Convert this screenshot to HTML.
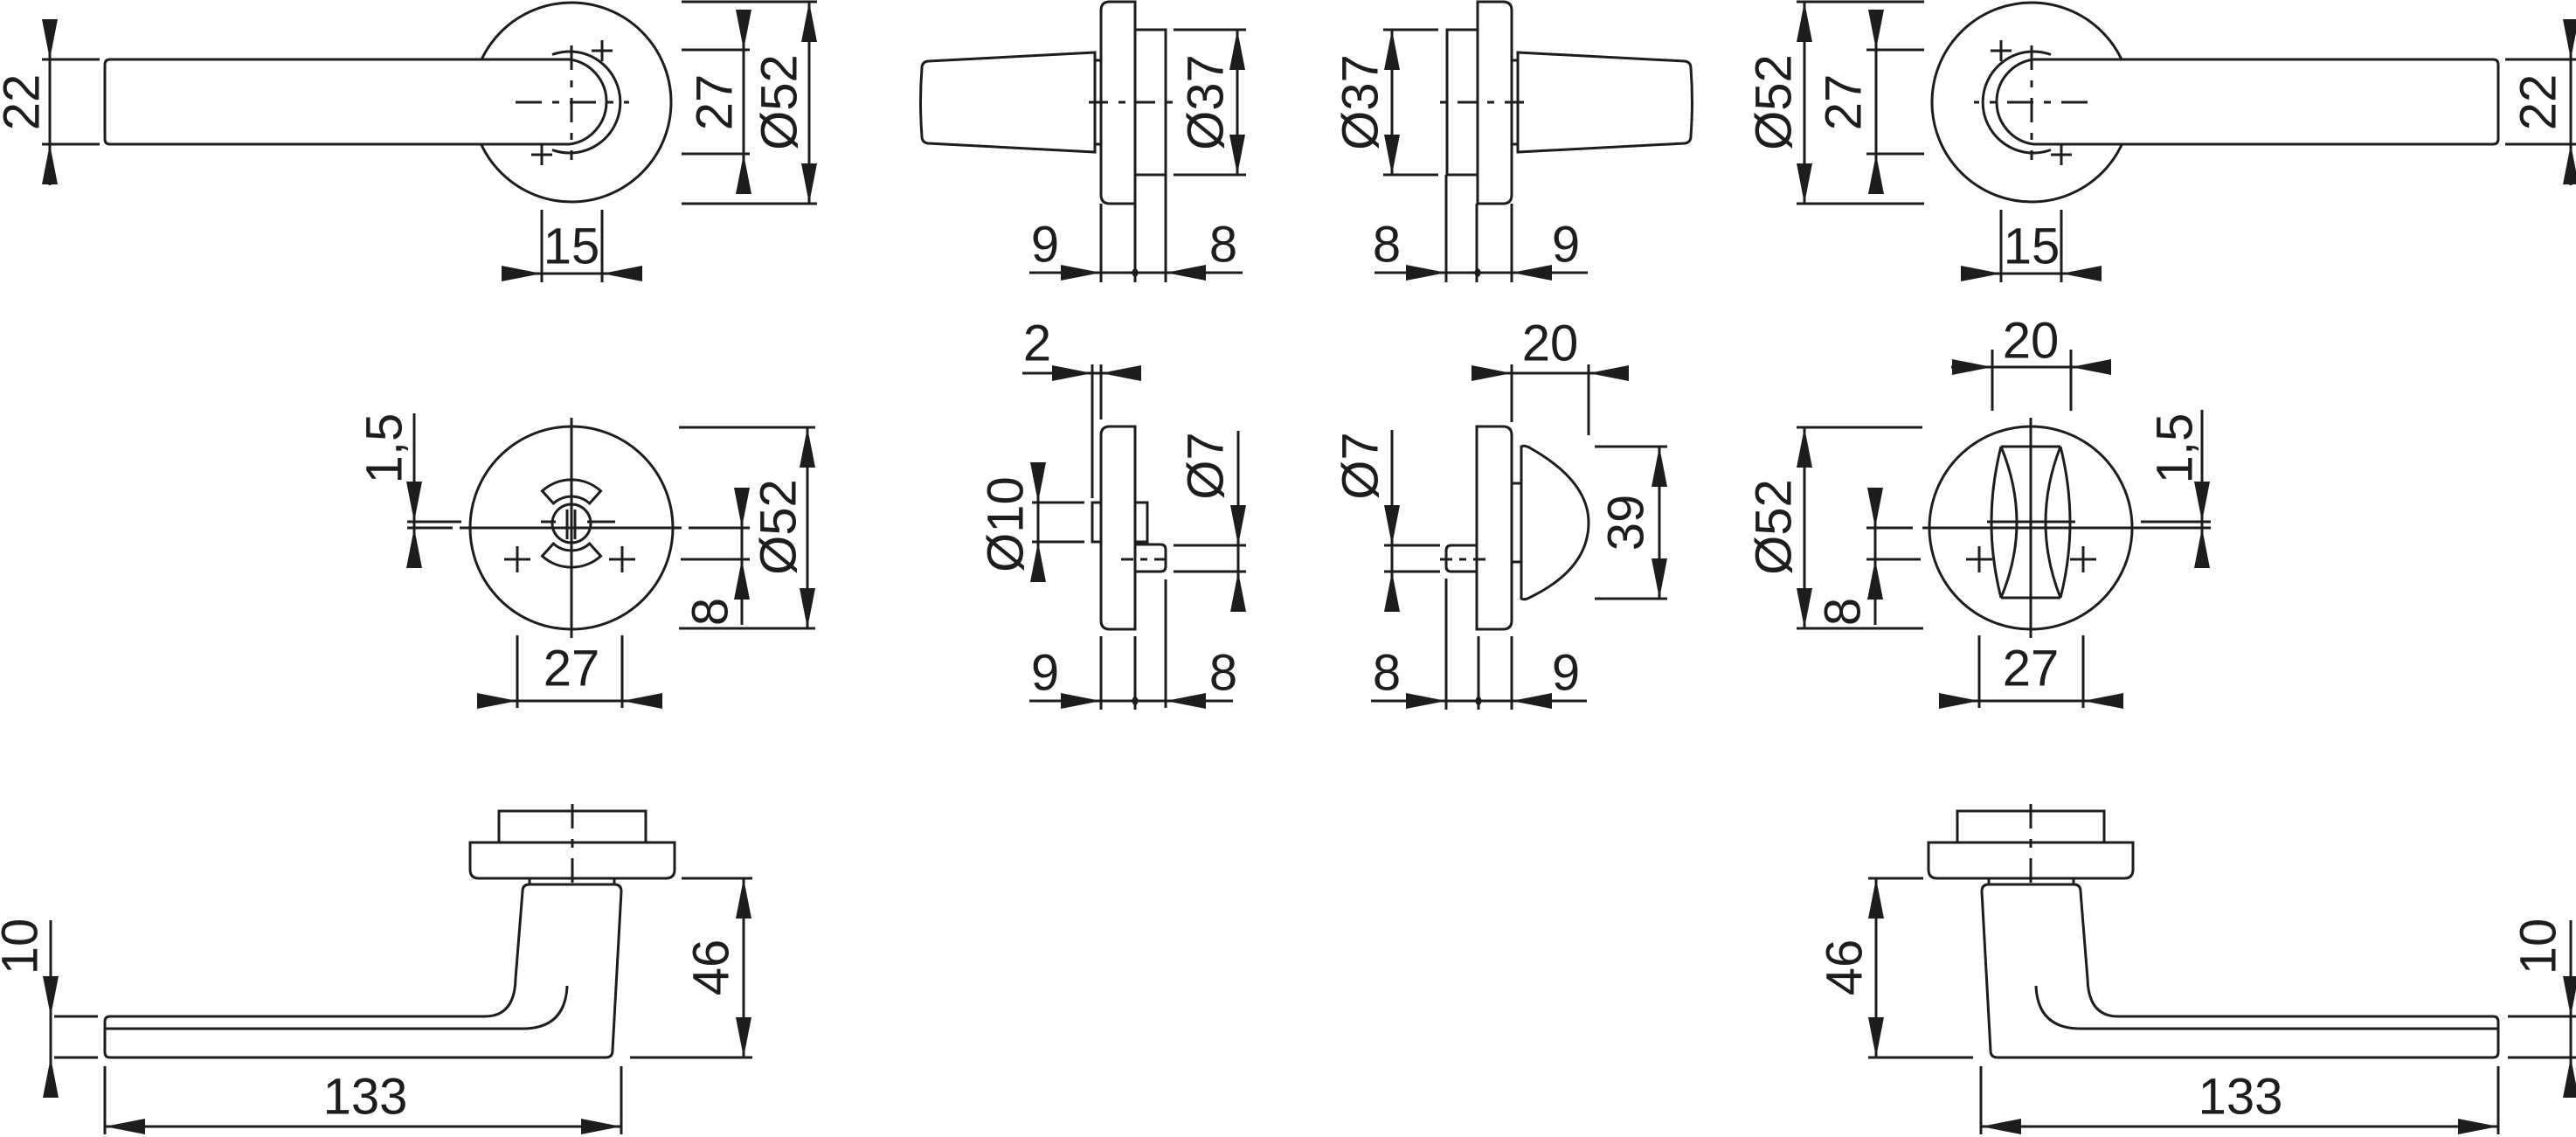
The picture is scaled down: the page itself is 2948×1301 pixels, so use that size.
<!DOCTYPE html>
<html><head><meta charset="utf-8"><style>
html,body{margin:0;padding:0;background:#fff}
svg{display:block}
text{font-family:"Liberation Sans",sans-serif;font-size:58px;fill:#1d1d1b;text-anchor:middle;dominant-baseline:central}
</style></head><body>
<svg xmlns="http://www.w3.org/2000/svg" xmlns:xlink="http://www.w3.org/1999/xlink" width="2948" height="1301" viewBox="0 0 2948 1301">
<defs>
<path id="a" d="M0,0 L-46,-9 L-46,9Z" fill="#1d1d1b"/>
<g id="roseTop">
<circle cx="654" cy="117" r="114" fill="#fff"/>
<path d="M652,68 H126 Q120,68 120,74 V159 Q120,165 126,165 H652" fill="#fff"/>
<path d="M652,68 A49,49 0 0 1 652,165"/>
<path d="M632,62.5 A58,58 0 1 1 632,171.5"/>
<path d="M677,58 H701 M689,46 V70 M608,177 H632 M620,165 V189"/>
<path d="M590,117 H720" stroke-dasharray="30,12,8,12"/>
<path d="M654,52 V183" stroke-dasharray="28,12,8,12"/>
</g>
<g id="knob">
<path d="M1299,2 H1270 Q1260,2 1260,12 V223 Q1260,233 1270,233 H1299 Z"/>
<path d="M1299,34 H1334 V200 H1299"/>
<path d="M1253,60 L1062,70 Q1055,71 1055,78 Q1052,117 1055,156 Q1055,163 1062,164 L1253,174 Z"/>
<path d="M1253,69 H1260 M1253,165 H1260 M1253,69 V165"/>
<path d="M1246,117 H1343" stroke-dasharray="22,12,8,12"/>
</g>
<g id="leverBot">
<rect x="571" y="928" width="168" height="36"/>
<path d="M538,964 H772 V995 Q772,1005 762,1005 H548 Q538,1005 538,995 Z"/>
<path d="M606,1005 V1012 M703,1005 V1012"/>
<path d="M126,1163 H555 Q589,1163 590,1120 L598,1020 Q598,1012 606,1012 H703 Q711,1012 711,1020 L701,1202 Q701,1210 693,1210 H126 Q120,1210 120,1204 V1169 Q120,1163 126,1163 Z"/>
<path d="M120,1177 H598 Q647,1177 649,1128"/>
<path d="M655,920 V1020" stroke-dasharray="28,12,10,12"/>
</g>
</defs>
<g fill="none" stroke="#1d1d1b" stroke-width="3">
<!-- top left -->
<use xlink:href="#roseTop"/>
<use xlink:href="#roseTop" transform="translate(2979,0) scale(-1,1)"/>
<path d="M48,68 H114 M48,165 H114 M57,23 V212"/>
<path d="M780,57 H858 M780,176 H858 M851,12 V222"/>
<path d="M780,2 H935 M780,233 H935 M926,2 V233"/>
<path d="M620,240 V323 M689,240 V323 M575,313 H735"/>
<!-- top right -->
<path d="M2056,2 H2202 M2056,233 H2202 M2065,2 V233"/>
<path d="M2136,57 H2202 M2136,176 H2202 M2147,12 V222"/>
<path d="M2867,68 H2948 M2867,165 H2948 M2942,23 V212"/>
<path d="M2290,240 V323 M2359,240 V323 M2245,313 H2405"/>
<!-- knobs -->
<use xlink:href="#knob"/>
<use xlink:href="#knob" transform="translate(2990,0) scale(-1,1)"/>
<path d="M1334,200 V323 M1299,233 V323 M1260,233 V323"/>
<path d="M1343,34 H1426 M1343,200 H1426 M1416,34 V200"/>
<path d="M1178,312 H1422"/>
<path d="M1655,200 V323 M1690,233 V323 M1730,233 V323"/>
<path d="M1583,34 H1646 M1583,200 H1646 M1593,34 V200"/>
<path d="M1573,312 H1817"/>
<!-- middle WC thumb side -->
<path d="M1299,488 H1270 Q1260,488 1260,498 V710 Q1260,720 1270,720 H1299 Z"/>
<rect x="1250" y="575" width="10" height="45"/>
<rect x="1299" y="575" width="14" height="45"/>
<path d="M1299,623 H1328 Q1334,623 1334,629 V648 Q1334,654 1328,654 H1299"/>
<path d="M1283,640 H1343" stroke-dasharray="14,8,8,8"/>
<path d="M1334,663 V810 M1260,728 V812 M1299,728 V812"/>
<path d="M1250,417 V570 M1260,417 V480 M1170,427 H1306"/>
<path d="M1181,575 H1241 M1181,620 H1241 M1188,529 V666"/>
<path d="M1343,624 H1426 M1343,654 H1426 M1417,493 V700"/>
<path d="M1178,802 H1411"/>
<!-- middle WC indicator -->
<path d="M1690,488 H1720 Q1730,488 1730,498 V710 Q1730,720 1720,720 H1690 Z"/>
<rect x="1730" y="553" width="11" height="90"/>
<path d="M1741,511 Q1744,509 1750,512 C1800,540 1818,570 1818,598 C1818,630 1800,660 1750,684 Q1744,687 1741,685 Z"/>
<path d="M1690,624 H1661 Q1655,624 1655,630 V648 Q1655,654 1661,654 H1690"/>
<path d="M1648,640 H1708" stroke-dasharray="14,8,8,8"/>
<path d="M1584,624 H1648 M1584,654 H1648 M1593,492 V700"/>
<path d="M1730,417 V483 M1818,417 V498 M1685,427 H1864"/>
<path d="M1825,511 H1908 M1825,685 H1908 M1899,511 V685"/>
<path d="M1655,662 V812 M1692,728 V812 M1730,728 V812 M1569,802 H1816"/>
<!-- middle left rose -->
<circle cx="654" cy="604" r="116"/>
<path d="M526,604 H780 M654,478 V730"/>
<circle cx="654" cy="599" r="22"/>
<path d="M620.5,561.8 A50,50 0 0 1 687.5,561.8 L674.7,576 A31,31 0 0 0 633.3,576 Z"/>
<path d="M620.5,636.2 A50,50 0 0 0 687.5,636.2 L674.7,622 A31,31 0 0 1 633.3,622 Z"/>
<path d="M649,583 V617 M658,583 V617 M619,597 H636 M672,597 H704"/>
<path d="M577,640 H607 M592,625 V655 M697,640 H727 M712,625 V655"/>
<path d="M466,597 H528 M466,604 H518 M474,473 V650"/>
<path d="M777,489 H933 M777,719 H933 M924,489 V719"/>
<path d="M788,604 H858 M779,640 H858 M849,558 V715"/>
<path d="M592,727 V810 M712,727 V810 M547,802 H758"/>
<!-- middle right rose -->
<circle cx="2324" cy="604" r="116"/>
<path d="M2200,604 H2450 M2324,478 V730"/>
<path d="M2290,511 H2358 M2290,684 H2358"/>
<path d="M2290,511 Q2268,598 2290,684 M2290,511 Q2326,598 2290,684 M2358,511 Q2380,598 2358,684 M2358,511 Q2324,598 2358,684"/>
<path d="M2274,597 H2375 M2316,597 H2332 M2324,589 V605"/>
<path d="M2250,640 H2280 M2265,625 V655 M2369,640 H2399 M2384,625 V655"/>
<path d="M2056,489 H2200 M2056,719 H2201 M2065,489 V719"/>
<path d="M2136,604 H2189 M2136,640 H2198 M2146,558 V715"/>
<path d="M2450,597 H2530 M2450,604 H2530 M2520,469 V650"/>
<path d="M2265,727 V810 M2384,727 V810 M2219,802 H2429"/>
<path d="M2280,400 V470 M2370,400 V470 M2233,420 H2414"/>
<!-- bottom levers -->
<use xlink:href="#leverBot"/>
<use xlink:href="#leverBot" transform="translate(2979,0) scale(-1,1)"/>
<path d="M62,1163 H112 M62,1210 H112 M58,1053 V1255"/>
<path d="M780,1005 H861 M721,1210 H861 M851,1005 V1210"/>
<path d="M120,1220 V1298 M711,1220 V1298 M120,1289 H711"/>
<path d="M2138,1005 H2201 M2138,1210 H2258 M2147,1005 V1210"/>
<path d="M2870,1163 H2948 M2870,1210 H2948 M2942,1053 V1255"/>
<path d="M2267,1220 V1298 M2859,1220 V1298 M2267,1289 H2859"/>
</g>
<!-- dots -->
<g fill="#1d1d1b">
<ellipse cx="1299" cy="312" rx="3.5" ry="5"/><ellipse cx="1691" cy="312" rx="3.5" ry="5"/>
<ellipse cx="1299" cy="802" rx="3.5" ry="5"/><ellipse cx="1692" cy="802" rx="3.5" ry="5"/>
</g>
<!-- arrows -->
<g>
<use xlink:href="#a" transform="translate(57,68) rotate(90)"/><use xlink:href="#a" transform="translate(57,165) rotate(-90)"/>
<use xlink:href="#a" transform="translate(851,57) rotate(90)"/><use xlink:href="#a" transform="translate(851,176) rotate(-90)"/>
<use xlink:href="#a" transform="translate(926,2) rotate(-90)"/><use xlink:href="#a" transform="translate(926,233) rotate(90)"/>
<use xlink:href="#a" transform="translate(620,313)"/><use xlink:href="#a" transform="translate(689,313) rotate(180)"/>
<use xlink:href="#a" transform="translate(2065,2) rotate(-90)"/><use xlink:href="#a" transform="translate(2065,233) rotate(90)"/>
<use xlink:href="#a" transform="translate(2147,57) rotate(90)"/><use xlink:href="#a" transform="translate(2147,176) rotate(-90)"/>
<use xlink:href="#a" transform="translate(2942,68) rotate(90)"/><use xlink:href="#a" transform="translate(2942,165) rotate(-90)"/>
<use xlink:href="#a" transform="translate(2290,313)"/><use xlink:href="#a" transform="translate(2359,313) rotate(180)"/>
<use xlink:href="#a" transform="translate(1416,34) rotate(-90)"/><use xlink:href="#a" transform="translate(1416,200) rotate(90)"/>
<use xlink:href="#a" transform="translate(1260,312)"/><use xlink:href="#a" transform="translate(1334,312) rotate(180)"/>
<use xlink:href="#a" transform="translate(1593,34) rotate(-90)"/><use xlink:href="#a" transform="translate(1593,200) rotate(90)"/>
<use xlink:href="#a" transform="translate(1655,312)"/><use xlink:href="#a" transform="translate(1730,312) rotate(180)"/>
<use xlink:href="#a" transform="translate(1250,427)"/><use xlink:href="#a" transform="translate(1260,427) rotate(180)"/>
<use xlink:href="#a" transform="translate(1188,575) rotate(90)"/><use xlink:href="#a" transform="translate(1188,620) rotate(-90)"/>
<use xlink:href="#a" transform="translate(1417,624) rotate(90)"/><use xlink:href="#a" transform="translate(1417,654) rotate(-90)"/>
<use xlink:href="#a" transform="translate(1260,802)"/><use xlink:href="#a" transform="translate(1334,802) rotate(180)"/>
<use xlink:href="#a" transform="translate(1593,624) rotate(90)"/><use xlink:href="#a" transform="translate(1593,654) rotate(-90)"/>
<use xlink:href="#a" transform="translate(1730,427)"/><use xlink:href="#a" transform="translate(1818,427) rotate(180)"/>
<use xlink:href="#a" transform="translate(1899,511) rotate(-90)"/><use xlink:href="#a" transform="translate(1899,685) rotate(90)"/>
<use xlink:href="#a" transform="translate(1655,802)"/><use xlink:href="#a" transform="translate(1730,802) rotate(180)"/>
<use xlink:href="#a" transform="translate(474,597) rotate(90)"/><use xlink:href="#a" transform="translate(474,604) rotate(-90)"/>
<use xlink:href="#a" transform="translate(924,489) rotate(-90)"/><use xlink:href="#a" transform="translate(924,719) rotate(90)"/>
<use xlink:href="#a" transform="translate(849,604) rotate(90)"/><use xlink:href="#a" transform="translate(849,640) rotate(-90)"/>
<use xlink:href="#a" transform="translate(592,802)"/><use xlink:href="#a" transform="translate(712,802) rotate(180)"/>
<use xlink:href="#a" transform="translate(2065,489) rotate(-90)"/><use xlink:href="#a" transform="translate(2065,719) rotate(90)"/>
<use xlink:href="#a" transform="translate(2146,604) rotate(90)"/><use xlink:href="#a" transform="translate(2146,640) rotate(-90)"/>
<use xlink:href="#a" transform="translate(2520,597) rotate(90)"/><use xlink:href="#a" transform="translate(2520,604) rotate(-90)"/>
<use xlink:href="#a" transform="translate(2265,802)"/><use xlink:href="#a" transform="translate(2384,802) rotate(180)"/>
<use xlink:href="#a" transform="translate(2280,420)"/><use xlink:href="#a" transform="translate(2370,420) rotate(180)"/>
<use xlink:href="#a" transform="translate(58,1163) rotate(90)"/><use xlink:href="#a" transform="translate(58,1210) rotate(-90)"/>
<use xlink:href="#a" transform="translate(851,1005) rotate(-90)"/><use xlink:href="#a" transform="translate(851,1210) rotate(90)"/>
<use xlink:href="#a" transform="translate(120,1289) rotate(180)"/><use xlink:href="#a" transform="translate(711,1289)"/>
<use xlink:href="#a" transform="translate(2147,1005) rotate(-90)"/><use xlink:href="#a" transform="translate(2147,1210) rotate(90)"/>
<use xlink:href="#a" transform="translate(2942,1163) rotate(90)"/><use xlink:href="#a" transform="translate(2942,1210) rotate(-90)"/>
<use xlink:href="#a" transform="translate(2267,1289) rotate(180)"/><use xlink:href="#a" transform="translate(2859,1289)"/>
</g>
<!-- labels -->
<text transform="translate(25,117) rotate(-90)">22</text>
<text transform="translate(818,117) rotate(-90)">27</text>
<text transform="translate(892,117) rotate(-90)">Ø52</text>
<text x="654" y="282">15</text>
<text transform="translate(2030,117) rotate(-90)">Ø52</text>
<text transform="translate(2110,117) rotate(-90)">27</text>
<text transform="translate(2905,117) rotate(-90)">22</text>
<text x="2325" y="282">15</text>
<text transform="translate(1380,117) rotate(-90)">Ø37</text>
<text x="1196" y="280">9</text><text x="1400" y="280">8</text>
<text transform="translate(1557,117) rotate(-90)">Ø37</text>
<text x="1587" y="280">8</text><text x="1792" y="280">9</text>
<text x="1187" y="393">2</text>
<text transform="translate(1151,600) rotate(-90)">Ø10</text>
<text transform="translate(1380,533) rotate(-90)">Ø7</text>
<text x="1196" y="770">9</text><text x="1400" y="770">8</text>
<text transform="translate(1557,533) rotate(-90)">Ø7</text>
<text x="1774" y="393">20</text>
<text transform="translate(1861,598) rotate(-90)">39</text>
<text x="1587" y="770">8</text><text x="1792" y="770">9</text>
<text transform="translate(440,513) rotate(-90)">1,5</text>
<text transform="translate(891,603) rotate(-90)">Ø52</text>
<text transform="translate(813,700) rotate(-90)">8</text>
<text x="654" y="765">27</text>
<text transform="translate(2030,603) rotate(-90)">Ø52</text>
<text transform="translate(2109,700) rotate(-90)">8</text>
<text transform="translate(2489,513) rotate(-90)">1,5</text>
<text x="2324" y="765">27</text>
<text x="2324" y="390">20</text>
<text transform="translate(23,1083) rotate(-90)">10</text>
<text transform="translate(814,1107) rotate(-90)">46</text>
<text x="418" y="1255">133</text>
<text transform="translate(2111,1107) rotate(-90)">46</text>
<text transform="translate(2905,1083) rotate(-90)">10</text>
<text x="2564" y="1255">133</text>
</svg>
</body></html>
